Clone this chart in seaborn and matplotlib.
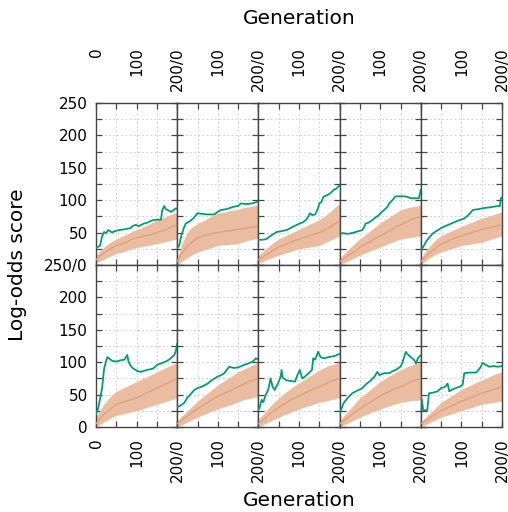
import numpy as np
import pandas as pd
import matplotlib
matplotlib.use('Agg')
import matplotlib.pyplot as plt
import seaborn as sns

# Style first, then fonts (set_style resets font settings)
sns.set_style('white')
plt.rcParams['font.family'] = ['DejaVu Sans']
plt.rcParams['text.color'] = 'black'

# ---- Data: 10 runs, population score band (mean, lower, upper) every 10 generations ----
generation = list(range(0, 201, 10))

mean_score = [
    [8, 14, 19, 23, 27, 30, 32, 34, 37, 40, 42, 43, 45, 46, 48, 50, 52, 54, 57, 60, 62],
    [5, 17, 25, 32, 37, 42, 44, 46, 48, 49, 50, 51, 52, 53, 54, 55, 56, 57, 58, 59, 60],
    [8, 12, 16, 20, 24, 28, 30, 33, 35, 38, 40, 42, 44, 46, 48, 50, 53, 56, 60, 64, 67],
    [5, 10, 14, 18, 22, 27, 31, 34, 38, 42, 45, 48, 52, 55, 59, 62, 65, 68, 71, 73, 75],
    [5, 12, 18, 23, 28, 32, 35, 38, 41, 43, 45, 47, 49, 51, 53, 55, 56, 58, 59, 61, 62],
    [5, 13, 20, 25, 30, 35, 37, 39, 41, 43, 45, 48, 51, 54, 57, 60, 63, 66, 69, 72, 75],
    [5, 10, 15, 19, 24, 28, 32, 36, 40, 44, 47, 50, 53, 56, 59, 62, 65, 68, 71, 73, 75],
    [5, 10, 16, 21, 26, 30, 34, 38, 42, 45, 48, 51, 54, 57, 60, 62, 65, 68, 71, 73, 75],
    [5, 10, 14, 19, 24, 28, 32, 36, 40, 44, 48, 51, 54, 57, 60, 62, 65, 68, 71, 73, 75],
    [5, 9, 13, 17, 21, 25, 28, 31, 34, 37, 40, 42, 45, 47, 50, 52, 54, 56, 58, 60, 62],
]
upper_score = [
    [15, 22, 28, 33, 37, 40, 43, 46, 49, 52, 55, 57, 60, 63, 66, 70, 72, 74, 77, 79, 80],
    [10, 30, 45, 55, 60, 64, 67, 70, 74, 77, 80, 81, 82, 84, 85, 86, 88, 89, 90, 92, 93],
    [15, 20, 26, 31, 36, 40, 43, 46, 49, 52, 55, 58, 61, 64, 67, 70, 74, 79, 84, 90, 95],
    [10, 17, 23, 29, 35, 40, 45, 50, 55, 60, 65, 69, 73, 77, 81, 85, 87, 89, 90, 91, 92],
    [10, 20, 28, 35, 41, 45, 48, 51, 54, 57, 60, 62, 65, 67, 70, 72, 74, 76, 78, 80, 82],
    [15, 26, 36, 43, 50, 55, 58, 61, 64, 67, 70, 73, 76, 79, 82, 85, 88, 91, 94, 97, 100],
    [10, 16, 22, 28, 34, 40, 45, 50, 55, 60, 65, 69, 73, 77, 81, 85, 88, 91, 94, 97, 100],
    [12, 19, 26, 33, 39, 45, 50, 55, 60, 64, 68, 72, 76, 80, 84, 88, 91, 94, 96, 98, 100],
    [10, 17, 24, 31, 38, 45, 50, 55, 60, 65, 70, 74, 78, 81, 85, 88, 91, 94, 96, 98, 100],
    [8, 14, 20, 26, 32, 38, 42, 46, 50, 54, 58, 61, 64, 67, 70, 72, 75, 78, 81, 83, 85],
]
lower_score = [
    [3, 6, 9, 12, 15, 18, 19, 21, 23, 25, 27, 28, 29, 30, 32, 33, 34, 36, 37, 39, 40],
    [0, 5, 9, 13, 17, 20, 22, 24, 26, 28, 30, 31, 31, 32, 32, 33, 35, 37, 39, 40, 42],
    [3, 5, 8, 10, 13, 15, 17, 19, 21, 23, 25, 26, 27, 28, 29, 30, 33, 36, 39, 42, 45],
    [0, 3, 6, 9, 12, 15, 18, 20, 23, 25, 28, 30, 33, 35, 38, 40, 41, 42, 43, 44, 45],
    [0, 5, 10, 14, 17, 20, 22, 24, 26, 28, 30, 31, 32, 33, 34, 35, 37, 39, 41, 43, 45],
    [0, 4, 8, 11, 15, 18, 19, 21, 22, 24, 25, 27, 29, 31, 33, 35, 37, 39, 41, 43, 45],
    [0, 3, 6, 9, 12, 15, 18, 20, 23, 25, 28, 30, 32, 34, 36, 39, 41, 43, 44, 46, 47],
    [0, 3, 6, 9, 12, 15, 18, 20, 23, 25, 28, 30, 32, 34, 36, 38, 39, 41, 42, 44, 45],
    [0, 3, 6, 9, 12, 15, 18, 20, 23, 25, 28, 30, 32, 34, 36, 38, 39, 40, 41, 41, 42],
    [0, 3, 6, 9, 12, 15, 17, 19, 21, 23, 25, 27, 29, 31, 33, 35, 36, 37, 38, 39, 40],
]

# Best individual per run (generation, score)
best_gen = [
    [0, 5, 10, 15, 20, 25, 30, 40, 45, 57, 70, 85, 90, 98, 105, 118, 125, 139, 150, 160, 163, 168, 172, 176, 184, 190, 195, 200],
    [0, 5, 10, 15, 21, 30, 40, 50, 60, 75, 91, 100, 108, 120, 140, 150, 157, 170, 185, 195, 200],
    [0, 10, 20, 28, 35, 45, 55, 70, 85, 95, 102, 110, 118, 123, 127, 132, 140, 146, 150, 155, 160, 170, 178, 185, 192, 200],
    [0, 10, 20, 35, 45, 56, 60, 64, 70, 80, 90, 95, 101, 110, 118, 122, 130, 138, 150, 160, 167, 175, 185, 195, 198, 200],
    [0, 5, 13, 20, 30, 40, 50, 60, 75, 90, 108, 115, 122, 128, 140, 157, 170, 190, 195, 197, 200],
    [0, 3, 6, 11, 15, 20, 24, 28, 32, 40, 50, 61, 70, 77, 80, 85, 90, 100, 110, 125, 140, 151, 160, 172, 180, 193, 197, 200],
    [0, 5, 10, 17, 25, 35, 42, 50, 60, 75, 85, 100, 108, 116, 122, 128, 140, 150, 165, 175, 186, 194, 200],
    [0, 3, 8, 12, 18, 24, 30, 35, 40, 48, 55, 57, 60, 69, 80, 90, 96, 102, 108, 115, 127, 132, 135, 140, 147, 153, 160, 175, 190, 200],
    [0, 5, 10, 20, 31, 40, 56, 65, 77, 85, 93, 98, 110, 122, 130, 138, 150, 155, 160, 163, 168, 175, 183, 188, 193, 200],
    [0, 3, 6, 12, 16, 20, 30, 41, 50, 60, 66, 70, 78, 86, 95, 103, 107, 120, 136, 142, 148, 152, 160, 169, 180, 190, 200],
]
best_score = [
    [27, 28, 30, 44, 51, 49, 54, 50, 52, 54, 55, 57, 60, 62, 60, 64, 65, 69, 70, 70, 84, 91, 86, 85, 82, 84, 87, 87],
    [26, 30, 45, 55, 64, 67, 72, 80, 79, 78, 78, 82, 85, 86, 90, 91, 95, 94, 95, 97, 99],
    [39, 39, 40, 44, 47, 51, 52, 54, 59, 62, 64, 66, 70, 75, 80, 77, 78, 86, 95, 97, 105, 108, 111, 116, 118, 123],
    [49, 49, 48, 50, 52, 54, 58, 64, 65, 69, 74, 76, 80, 85, 90, 95, 100, 106, 106, 106, 105, 103, 103, 103, 110, 116],
    [24, 27, 36, 42, 49, 53, 57, 60, 64, 68, 72, 76, 80, 85, 86, 88, 89, 91, 91, 103, 104],
    [20, 24, 31, 47, 60, 90, 100, 108, 106, 102, 101, 103, 104, 111, 101, 95, 91, 87, 85, 88, 90, 96, 98, 101, 104, 111, 118, 129],
    [31, 32, 34, 37, 45, 52, 57, 60, 62, 67, 72, 78, 80, 83, 88, 93, 91, 92, 96, 98, 101, 106, 104],
    [26, 30, 42, 38, 50, 57, 75, 62, 57, 67, 78, 88, 76, 72, 71, 70, 80, 88, 75, 78, 85, 88, 106, 104, 116, 108, 106, 108, 110, 113],
    [21, 29, 37, 45, 52, 55, 60, 66, 72, 77, 85, 80, 83, 83, 86, 88, 93, 100, 110, 116, 112, 108, 104, 98, 106, 111],
    [49, 40, 26, 26, 26, 52, 53, 55, 60, 62, 67, 55, 58, 60, 62, 65, 83, 84, 84, 88, 93, 99, 96, 93, 94, 93, 94],
]

band_color = '#eabda2'
mean_color = '#e0a17f'
best_color = '#0a9a6c'
frame_color = '#454545'

# ---- Figure: 2 x 5 panels, no spacing ----
fig, axes = plt.subplots(2, 5, figsize=(5.08, 5.12), dpi=100)
fig.subplots_adjust(left=96 / 508, right=502 / 508, top=1 - 103 / 512,
                    bottom=1 - 427 / 512, wspace=0, hspace=0)

x_ticks = [0, 50, 100, 150, 200]
y_ticks = list(range(0, 251, 25))

for i, ax in enumerate(axes.flat):
    row, col = divmod(i, 5)

    ax.fill_between(generation, lower_score[i], upper_score[i],
                    color=band_color, linewidth=0, zorder=2)
    sns.lineplot(x=generation, y=mean_score[i], ax=ax, color=mean_color,
                 linewidth=1, zorder=3)
    sns.lineplot(x=best_gen[i], y=best_score[i], ax=ax, color=best_color,
                 linewidth=1.3, zorder=4)

    ax.set_xlim(0, 200)
    ax.set_ylim(0, 250)
    ax.set_xlabel('')
    ax.set_ylabel('')

    # ticks inward on all four sides
    ax.tick_params(direction='in', length=4.5, width=0.9, color=frame_color,
                   top=True, bottom=True, left=True, right=True, labelsize=11,
                   labelcolor='black')
    if row == 0:
        ax.tick_params(axis='x', labelbottom=False, labeltop=True, pad=40)
    else:
        ax.tick_params(axis='x', labelbottom=True, labeltop=False, pad=8)

    x_labels = ['0' if col == 0 else '', '', '100', '', '200/0']
    ax.set_xticks(x_ticks, x_labels, rotation=90, va='top')

    if col == 0:
        if row == 0:
            y_labels = ['250/0', '', '50', '', '100', '', '150', '', '200', '', '250']
        else:
            y_labels = ['0', '', '50', '', '100', '', '150', '', '200', '', '']
        ax.set_yticks(y_ticks, y_labels)
        ax.tick_params(axis='y', pad=6)
    else:
        ax.set_yticks(y_ticks, [''] * len(y_ticks))

    ax.grid(True, linestyle=(0, (2, 3)), color='#c8c8c8', linewidth=0.6, zorder=0)
    ax.set_axisbelow(True)
    for side in ax.spines.values():
        side.set_color(frame_color)
        side.set_linewidth(1)

fig.text(299 / 508, 1 - 18 / 512, 'Generation', ha='center', va='center', fontsize=14.5)
fig.text(299 / 508, 1 - 500 / 512, 'Generation', ha='center', va='center', fontsize=14.5)
fig.text(18 / 508, 1 - 265 / 512, 'Log-odds score', ha='center', va='center',
         rotation=90, fontsize=14.5)

plt.savefig('out.png', dpi=100)
